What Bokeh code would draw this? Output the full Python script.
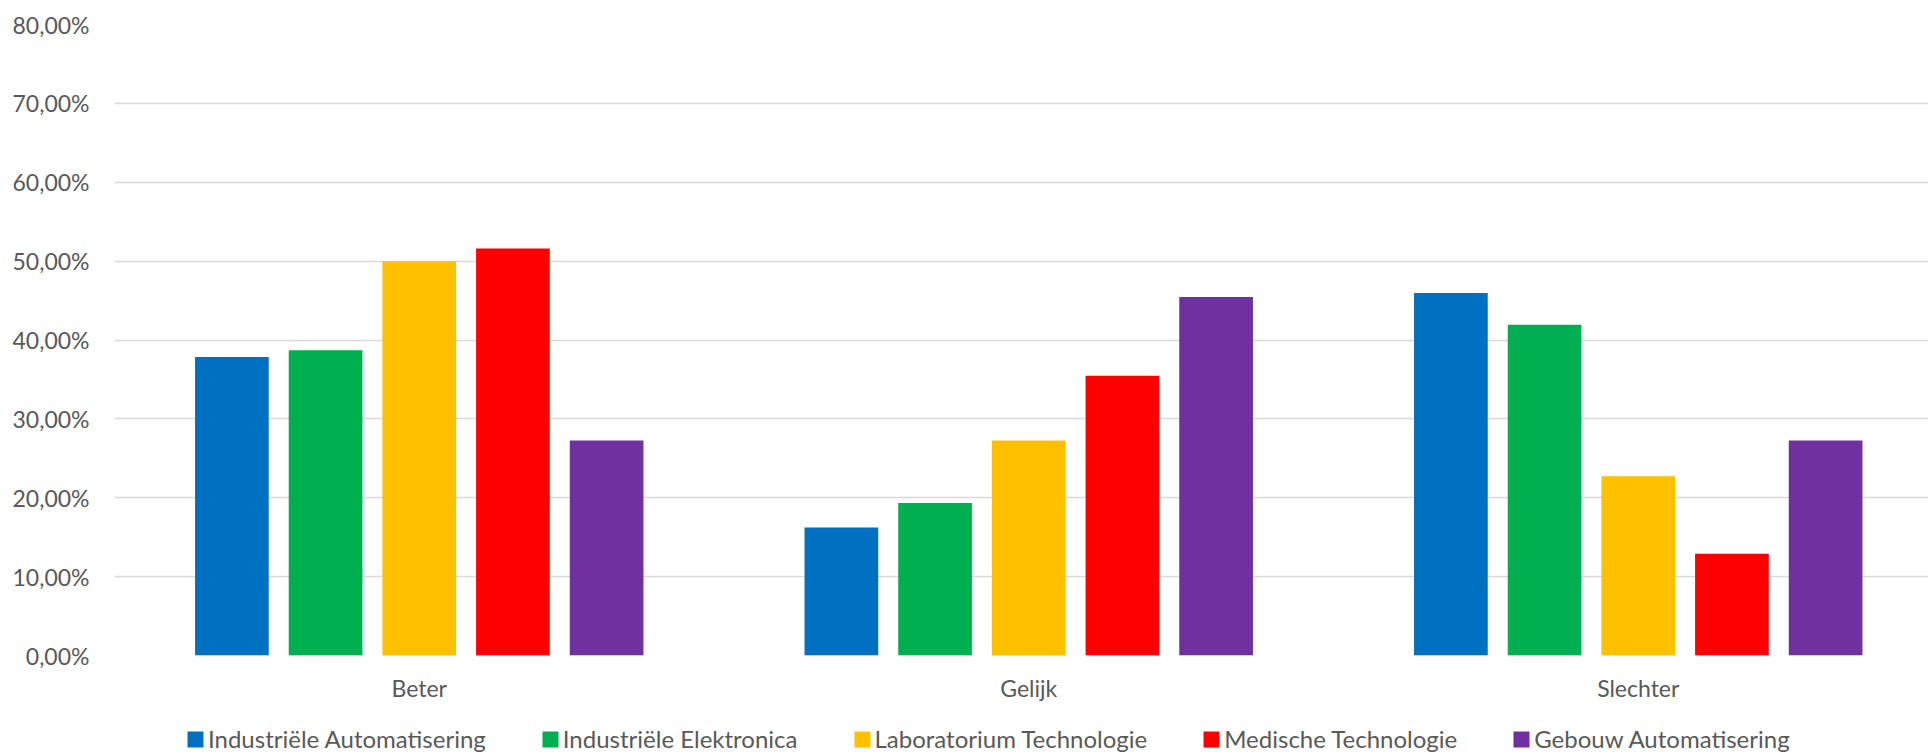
from bokeh.plotting import figure
from bokeh.layouts import column
from bokeh.models import (ColumnDataSource, Range1d, FixedTicker, Legend, LegendItem)
from bokeh.transform import dodge
from bokeh.embed import file_html
from bokeh.resources import INLINE

# ---- data ----
categories = ["Beter", "Gelijk", "Slechter"]
series_names = ["Industriële Automatisering", "Industriële Elektronica",
                "Laboratorium Technologie", "Medische Technologie", "Gebouw Automatisering"]
industriele_automatisering = [37.84, 16.22, 45.95]
industriele_elektronica = [38.71, 19.35, 41.94]
laboratorium_technologie = [50.00, 27.27, 22.73]
medische_technologie = [51.61, 35.48, 12.90]
gebouw_automatisering = [27.27, 45.45, 27.27]
y_ticks = [0, 10, 20, 30, 40, 50, 60, 70, 80]
y_tick_labels = ["0,00%", "10,00%", "20,00%", "30,00%", "40,00%",
                 "50,00%", "60,00%", "70,00%", "80,00%"]

colors = ["#0070C0", "#00B050", "#FFC000", "#FF0000", "#7030A0"]
keys = ["ia", "ie", "lt", "mt", "ga"]
values = [industriele_automatisering, industriele_elektronica,
          laboratorium_technologie, medische_technologie, gebouw_automatisering]

x_centers = [i + 0.5 for i in range(len(categories))]
data = {"x": x_centers}
for k, v in zip(keys, values):
    data[k] = v
source = ColumnDataSource(data)

FONT = "Lato"
TXT = "#595959"

W = 1928
H1 = 704
H2 = 50
BL = 114
p = figure(width=W, height=H1, output_backend="svg", toolbar_location=None,
           x_range=Range1d(0, (W - BL) / 609.5), y_range=Range1d(0, 80),
           min_border_left=BL, min_border_right=0, min_border_top=24,
           min_border_bottom=H1 - 656)
p.outline_line_color = None
p.background_fill_color = "white"
p.border_fill_color = "white"

step = 0.1537
bw = 0.1209
for i, (k, c) in enumerate(zip(keys, colors)):
    p.vbar(x=dodge("x", (i - 2) * step, range=p.x_range), top=k, width=bw,
           source=source, fill_color=c, line_color=None)

# axes
p.xgrid.grid_line_color = None
p.ygrid.grid_line_color = "#D9D9D9"
p.ygrid.grid_line_width = 1.3
p.ygrid.ticker = FixedTicker(ticks=y_ticks)

ya = p.yaxis[0]
ya.ticker = FixedTicker(ticks=y_ticks)
ya.major_label_overrides = {t: l for t, l in zip(y_ticks, y_tick_labels)}
ya.axis_line_color = None
ya.major_tick_line_color = None
ya.minor_tick_line_color = None
ya.major_tick_out = 0
ya.major_tick_in = 0
ya.major_label_standoff = 25
ya.major_label_text_font = FONT
ya.major_label_text_font_size = "23px"
ya.major_label_text_color = TXT

xa = p.xaxis[0]
xa.ticker = FixedTicker(ticks=x_centers)
xa.major_label_overrides = {x: c for x, c in zip(x_centers, categories)}
xa.axis_line_color = None
xa.major_tick_line_color = None
xa.minor_tick_line_color = None
xa.major_tick_out = 0
xa.major_tick_in = 0
xa.major_label_standoff = 18
xa.major_label_text_font = FONT
xa.major_label_text_font_size = "23px"
xa.major_label_text_color = TXT

# legend strip (separate figure so it is not clipped); the same series are
# drawn there but fall outside its visible y range, only their swatches show
p2 = figure(width=W, height=H2, output_backend="svg", toolbar_location=None,
            x_range=Range1d(0, 3), y_range=Range1d(1000, 1001),
            x_axis_location=None, y_axis_location=None,
            min_border_left=0, min_border_right=0, min_border_top=0, min_border_bottom=0)
p2.grid.visible = False
p2.outline_line_color = None
p2.border_fill_color = "white"
p2.background_fill_color = "white"
legend_renderers = []
for k, c in zip(keys, colors):
    legend_renderers.append(p2.vbar(x="x", top=k, width=0.1, source=source,
                                    fill_color=c, line_color=None))

legend = Legend(items=[LegendItem(label=n, renderers=[r], index=0)
                       for n, r in zip(series_names, legend_renderers)],
                orientation="horizontal", glyph_width=20, glyph_height=20,
                label_standoff=3, spacing=54, padding=0, margin=0,
                border_line_color=None, background_fill_alpha=0,
                label_text_font=FONT, label_text_font_size="24px",
                label_text_color=TXT, label_height=16, location=(71, 1))
p2.add_layout(legend, "center")

layout = column(p, p2, spacing=0)
open("out.html", "w").write(file_html(layout, INLINE))
